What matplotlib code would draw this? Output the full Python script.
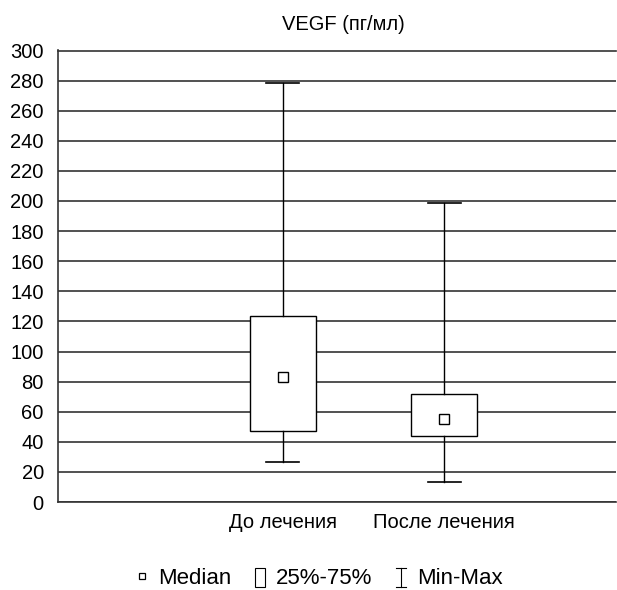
import matplotlib
matplotlib.use("Agg")
import matplotlib.pyplot as plt
from matplotlib import font_manager
from matplotlib.lines import Line2D
from matplotlib.patches import Rectangle
from matplotlib.legend_handler import HandlerBase

# ---- data ----
categories = ["До лечения", "После лечения"]
medians = [83, 55]
q1 = [47.5, 44]
q3 = [123.5, 71.5]
mins = [26.5, 13]
maxs = [278.5, 198.5]
yticks = list(range(0, 301, 20))
title = "VEGF (пг/мл)"
legend_labels = ["Median", "25%-75%", "Min-Max"]

names = {f.name for f in font_manager.fontManager.ttflist}
if "Liberation Sans Narrow" in names:
    narrow = "Liberation Sans Narrow"
    nsize = 16
else:
    narrow = "Liberation Sans"
    nsize = 14.5
plt.rcParams['font.family'] = ["Liberation Sans", "DejaVu Sans"]

fig = plt.figure(figsize=(6.17, 5.90), dpi=100)
ax = fig.add_axes([57.7/617, 88/590, (616-57.7)/617, 451.5/590])

gridc = "#333333"
ax.set_axisbelow(True)
ax.yaxis.grid(True, color=gridc, lw=1.2, zorder=0)
ax.xaxis.grid(False)

stats = []
for i in range(len(categories)):
    stats.append(dict(med=medians[i], mean=medians[i], q1=q1[i], q3=q3[i],
                      whislo=mins[i], whishi=maxs[i], fliers=[], label=categories[i]))

ax.bxp(stats, positions=[1, 2], widths=0.404, capwidths=0.205,
       patch_artist=True, showmeans=True, meanline=False, showfliers=False,
       boxprops=dict(facecolor="white", edgecolor="black", lw=1.0),
       whiskerprops=dict(color="black", lw=1.0),
       capprops=dict(color="black", lw=1.2),
       medianprops=dict(visible=False),
       meanprops=dict(marker="s", markerfacecolor="white", markeredgecolor="black",
                      markersize=6.5, markeredgewidth=1.0),
       zorder=3)

ax.set_xlim(-0.399, 3.068)
ax.set_ylim(0, 300)
ax.set_yticks(yticks)
ax.set_xticks([1, 2])
ax.set_xticklabels(categories)
for lab in ax.get_xticklabels() + ax.get_yticklabels():
    lab.set_fontfamily([narrow, "DejaVu Sans"])
    lab.set_fontsize(nsize)
ax.tick_params(axis="y", length=0, pad=10)
ax.tick_params(axis="x", length=0, pad=8)

for s in ["left", "bottom", "top"]:
    ax.spines[s].set_color(gridc)
    ax.spines[s].set_linewidth(1.2)
ax.spines["right"].set_visible(False)

fig.text(343/617, 1-24/590, title, ha="center", va="center",
         fontsize=nsize, fontfamily=[narrow, "DejaVu Sans"])


class RectHandler(HandlerBase):
    def create_artists(self, legend, orig, xdescent, ydescent, width, height, fontsize, trans):
        w = width * 0.6
        h = height * 1.25
        x0 = -xdescent + (width - w) / 2
        y0 = -ydescent + (height - h) / 2 - height * 0.1
        r = Rectangle((x0, y0), w, h, facecolor="white", edgecolor="black", lw=0.8, transform=trans)
        return [r]


class IHandler(HandlerBase):
    def create_artists(self, legend, orig, xdescent, ydescent, width, height, fontsize, trans):
        cx = -xdescent + width / 2
        w = width * 0.6
        h = height * 1.25
        y0 = -ydescent + (height - h) / 2 - height * 0.1
        y1 = y0 + h
        lines = [Line2D([cx, cx], [y0, y1], color="black", lw=0.8, transform=trans),
                 Line2D([cx - w/2, cx + w/2], [y0, y0], color="black", lw=0.8, transform=trans),
                 Line2D([cx - w/2, cx + w/2], [y1, y1], color="black", lw=0.8, transform=trans)]
        return lines


h_med = Line2D([], [], marker="s", ls="none", markerfacecolor="white",
               markeredgecolor="black", markersize=5, markeredgewidth=0.9)
h_box = Rectangle((0, 0), 1, 1)
h_mm = Line2D([], [])
fig.legend([h_med, h_box, h_mm], legend_labels, loc="center",
           bbox_to_anchor=(318/617, 1-578/590), ncol=3, frameon=False,
           fontsize=16, handlelength=0.75, handletextpad=0.35, columnspacing=0.9,
           handler_map={h_box: RectHandler(), h_mm: IHandler()})

fig.savefig("out.png", dpi=100)
